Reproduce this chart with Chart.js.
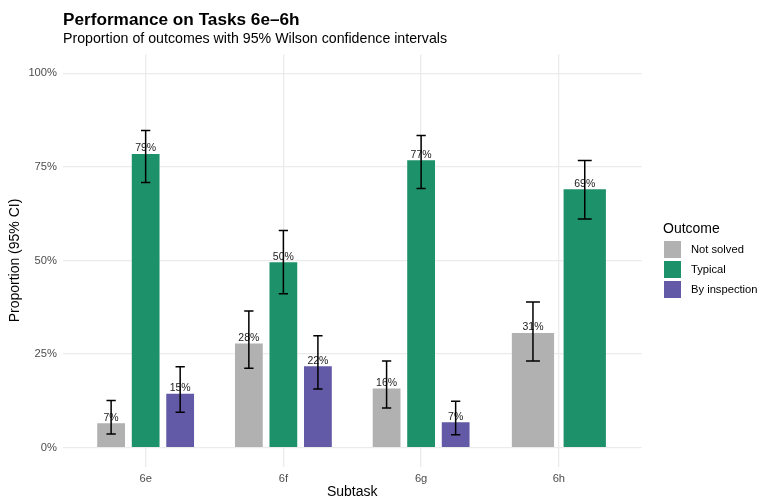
<!DOCTYPE html>
<html><head><meta charset="utf-8">
<script src="https://cdn.jsdelivr.net/npm/chart.js@4.4.1/dist/chart.umd.min.js"></script>
<style>html,body{margin:0;padding:0;background:#fff}#wrap{width:759px;height:497px;position:relative}</style>
</head><body><div id="wrap"><canvas id="c" width="759" height="497"></canvas></div>
<script>
// ---- data ----
const categories = ['6e', '6f', '6g', '6h'];
const outcomes = ['Not solved', 'Typical', 'By inspection'];
const notSolved      = [6.7, 28.0, 16.0, 30.8];
const typical        = [78.6, 49.7, 76.9, 69.2];
const byInspection   = [14.6, 21.9, 7.0, null];
const notSolvedLo    = [3.7, 21.2, 10.6, 23.2];
const notSolvedHi    = [12.6, 36.5, 23.2, 38.9];
const typicalLo      = [70.8, 41.1, 69.2, 61.1];
const typicalHi      = [84.7, 58.0, 83.4, 76.7];
const byInspectionLo = [9.5, 15.7, 3.5, null];
const byInspectionHi = [21.6, 29.9, 12.4, null];
const yTicks = [0, 25, 50, 75, 100];
const titleText = 'Performance on Tasks 6e\u20136h';
const subtitleText = 'Proportion of outcomes with 95% Wilson confidence intervals';
const xTitle = 'Subtask';
const yTitle = 'Proportion (95% CI)';
const legendTitle = 'Outcome';

// ---- style ----
const FONT = "'Liberation Sans', Arial, Helvetica, sans-serif";
const colors = ['#b1b1b1', '#1d9169', '#625aa6'];
const gridColor = '#ebebeb';

const valueSets = [notSolved, typical, byInspection];
const loSets = [notSolvedLo, typicalLo, byInspectionLo];
const hiSets = [notSolvedHi, typicalHi, byInspectionHi];

function toPoints(vals) {
  return categories.map((c, i) => ({ x: i, y: vals[i] })).filter(p => p.y !== null && p.y !== undefined);
}

Chart.defaults.font.family = FONT;

const overlay = {
  id: 'overlay',
  afterDatasetsDraw(chart) {
    const ctx = chart.ctx;
    const yS = chart.scales.y;
    ctx.save();
    // value labels
    ctx.font = '10.5px ' + FONT;
    ctx.fillStyle = '#222222';
    ctx.textAlign = 'center';
    ctx.textBaseline = 'alphabetic';
    chart.data.datasets.forEach((ds, di) => {
      const meta = chart.getDatasetMeta(di);
      meta.data.forEach((bar, k) => {
        const idx = ds.data[k].x;
        ctx.fillText(Math.round(valueSets[di][idx]) + '%', bar.x, bar.y - 2);
      });
    });
    // error bars
    ctx.strokeStyle = '#000000';
    ctx.lineWidth = 1.5;
    chart.data.datasets.forEach((ds, di) => {
      const meta = chart.getDatasetMeta(di);
      meta.data.forEach((bar, k) => {
        const idx = ds.data[k].x;
        const yLo = yS.getPixelForValue(loSets[di][idx]);
        const yHi = yS.getPixelForValue(hiSets[di][idx]);
        const hw = bar.width * 0.32 / 2;
        ctx.beginPath();
        ctx.moveTo(bar.x, yLo); ctx.lineTo(bar.x, yHi);
        ctx.moveTo(bar.x - hw, yLo); ctx.lineTo(bar.x + hw, yLo);
        ctx.moveTo(bar.x - hw, yHi); ctx.lineTo(bar.x + hw, yHi);
        ctx.stroke();
      });
    });
    ctx.restore();
  },
  afterDraw(chart) {
    const ctx = chart.ctx;
    const area = chart.chartArea;
    ctx.save();
    // title & subtitle
    ctx.textAlign = 'left';
    ctx.textBaseline = 'alphabetic';
    ctx.fillStyle = '#000000';
    ctx.font = 'bold 17.2px ' + FONT;
    ctx.fillText(titleText, area.left, 24.5);
    ctx.font = '14.2px ' + FONT;
    ctx.fillText(subtitleText, area.left, 43);
    // legend
    const lx = 663, ly = 241;
    ctx.font = '14px ' + FONT;
    ctx.fillText(legendTitle, lx, 233);
    ctx.font = '11.2px ' + FONT;
    ctx.textBaseline = 'middle';
    chart.data.datasets.forEach((ds, i) => {
      const y = ly + i * 20;
      ctx.fillStyle = ds.backgroundColor;
      ctx.fillRect(lx + 1, y, 17, 17);
      ctx.fillStyle = '#000000';
      ctx.fillText(ds.label, lx + 28, y + 9);
    });
    ctx.restore();
  }
};

new Chart(document.getElementById('c'), {
  type: 'bar',
  data: {
    datasets: outcomes.map((name, i) => ({
      label: name,
      data: toPoints(valueSets[i]),
      backgroundColor: colors[i],
      borderColor: 'rgba(255,255,255,0.7)',
      borderWidth: 0.6,
      categoryPercentage: 0.752,
      barPercentage: 0.84,
      skipNull: true
    }))
  },
  options: {
    responsive: false,
    animation: false,
    devicePixelRatio: 1,
    layout: { padding: { top: 54.5, right: 117.5, left: 0, bottom: 0 } },
    plugins: { legend: { display: false }, tooltip: { enabled: false }, title: { display: false } },
    scales: {
      x: {
        type: 'linear', min: -0.6, max: 3.6, offset: false,
        afterBuildTicks: s => { s.ticks = categories.map((c, i) => ({ value: i })); },
        afterFit: s => { s.height = 30.5; },
        ticks: { callback: v => categories[v], font: { size: 11.2 }, color: '#4d4d4d', padding: 6, maxRotation: 0, autoSkip: false },
        grid: { color: gridColor, lineWidth: 1.3, drawTicks: false, offset: false },
        border: { display: false },
        title: { display: true, text: xTitle, font: { size: 14 }, color: '#000000', padding: { top: 0, bottom: -3.4 } }
      },
      y: {
        type: 'linear', min: -5, max: 105,
        afterBuildTicks: s => { s.ticks = yTicks.map(v => ({ value: v })); },
        afterFit: s => { s.width = 63; },
        ticks: { callback: v => v + '%', font: { size: 11.2 }, color: '#4d4d4d', padding: 6 },
        grid: { color: gridColor, lineWidth: 1.3, drawTicks: false },
        border: { display: false },
        title: { display: true, text: yTitle, font: { size: 14 }, color: '#000000', padding: { top: 7.1, bottom: 0 } }
      }
    }
  },
  plugins: [overlay]
});
</script>
</body></html>
